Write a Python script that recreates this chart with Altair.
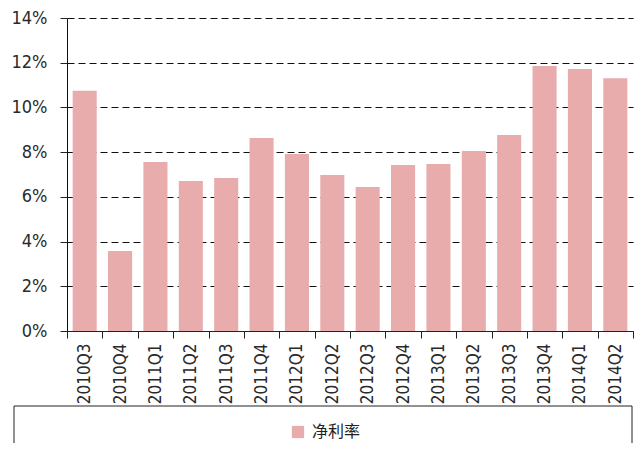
import altair as alt
import pandas as pd

quarters = ["2010Q3", "2010Q4", "2011Q1", "2011Q2", "2011Q3", "2011Q4", "2012Q1", "2012Q2",
            "2012Q3", "2012Q4", "2013Q1", "2013Q2", "2013Q3", "2013Q4", "2014Q1", "2014Q2"]
net_margin = [0.1075, 0.0358, 0.0756, 0.0671, 0.0684, 0.0863, 0.0792, 0.0698,
              0.0644, 0.0742, 0.0747, 0.0805, 0.0877, 0.1185, 0.1172, 0.1131]
series_name = "净利率"
y_ticks = [0, 0.02, 0.04, 0.06, 0.08, 0.10, 0.12, 0.14]

df = pd.DataFrame({"quarter": quarters, "value": net_margin, "series": [series_name] * len(quarters)})

LAB_FONT = "Liberation Sans Narrow, DejaVu Sans Condensed, Liberation Sans, sans-serif"

bars = alt.Chart(df).mark_bar(width=alt.RelativeBandSize(0.68)).encode(
    x=alt.X("quarter:N", sort=quarters, title=None,
            scale=alt.Scale(paddingInner=0, paddingOuter=0),
            axis=alt.Axis(labelAngle=-90, tickBand="extent", tickSize=7, tickColor="#222",
                          domainColor="#222", labelFont=LAB_FONT, labelFontSize=17,
                          labelColor="#2a2a2a", labelPadding=5, grid=False)),
    y=alt.Y("value:Q", title=None,
            scale=alt.Scale(domain=[0, 0.14], nice=False),
            axis=alt.Axis(values=y_ticks, format=".0%", tickSize=7, tickColor="#222",
                          domainColor="#111", labelFont=LAB_FONT, labelFontSize=18,
                          labelColor="#2a2a2a", labelPadding=13, grid=True,
                          gridColor="#111", gridDash=[7, 4], gridWidth=1)),
    color=alt.Color("series:N", scale=alt.Scale(range=["#E8ACAC"]),
                    legend=alt.Legend(title=None, orient="none", legendX=223, legendY=406,
                                      symbolType="square", symbolSize=150, symbolStrokeWidth=0,
                                      labelFont="Noto Sans CJK SC", labelFontSize=16,
                                      labelColor="#222", labelOffset=6, padding=0)),
)

box = alt.Chart(pd.DataFrame({"a": [0]})).mark_rect(fillOpacity=0, stroke="#222", strokeWidth=1).encode(
    x=alt.value(-53), x2=alt.value(565), y=alt.value(388), y2=alt.value(440)
)

chart = alt.layer(bars, box).properties(
    width=566, height=313,
    padding={"left": 59, "top": 10, "right": 2, "bottom": 112},
    autosize=alt.AutoSizeParams(type="none"),
).configure_view(stroke=None)

chart.save("out.html", embed_options={"renderer": "svg", "actions": False})
